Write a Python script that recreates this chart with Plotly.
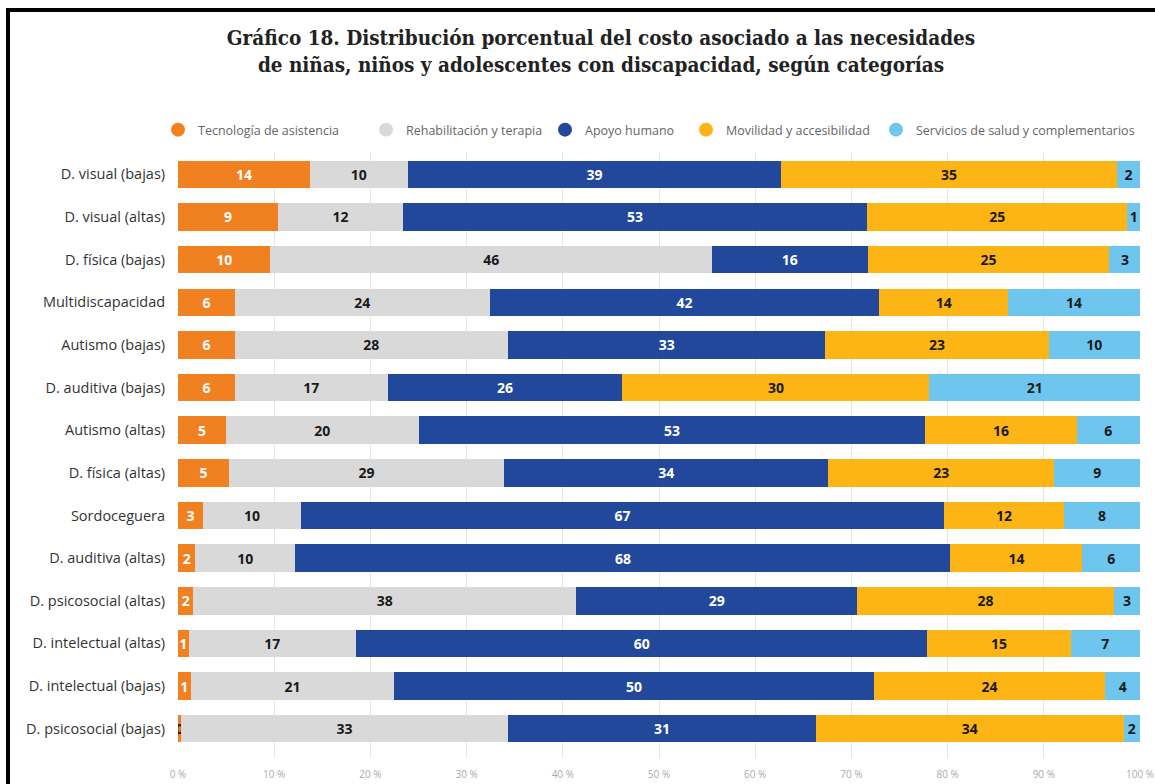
import plotly.graph_objects as go

# ---------------- data ----------------
categories = ["D. visual (bajas)", "D. visual (altas)", "D. física (bajas)", "Multidiscapacidad",
              "Autismo (bajas)", "D. auditiva (bajas)", "Autismo (altas)", "D. física (altas)",
              "Sordoceguera", "D. auditiva (altas)", "D. psicosocial (altas)", "D. intelectual (altas)",
              "D. intelectual (bajas)", "D. psicosocial (bajas)"]

series_names = ["Tecnología de asistencia", "Rehabilitación y terapia", "Apoyo humano",
                "Movilidad y accesibilidad", "Servicios de salud y complementarios"]

# bar widths (%)
tecnologia = [13.7, 10.4, 9.6, 5.9, 5.9, 5.9, 5.0, 5.3, 2.6, 1.8, 1.6, 1.1, 1.3, 0.3]
rehabilitacion = [10.2, 13.0, 45.9, 26.5, 28.4, 15.9, 20.0, 28.6, 10.2, 10.4, 39.8, 17.4, 21.2, 34.0]
apoyo = [38.8, 48.2, 16.2, 40.5, 33.0, 24.4, 52.7, 33.7, 66.8, 68.1, 29.2, 59.4, 49.8, 32.0]
movilidad = [34.9, 27.1, 25.1, 13.4, 23.2, 31.9, 15.7, 23.5, 12.5, 13.7, 26.7, 14.9, 24.1, 32.0]
servicios = [2.4, 1.3, 3.3, 13.7, 9.5, 21.9, 6.6, 8.9, 7.9, 6.0, 2.7, 7.2, 3.6, 1.7]

# value labels printed on the bars
tecnologia_lbl = [14, 9, 10, 6, 6, 6, 5, 5, 3, 2, 2, 1, 1, 0]
rehabilitacion_lbl = [10, 12, 46, 24, 28, 17, 20, 29, 10, 10, 38, 17, 21, 33]
apoyo_lbl = [39, 53, 16, 42, 33, 26, 53, 34, 67, 68, 29, 60, 50, 31]
movilidad_lbl = [35, 25, 25, 14, 23, 30, 16, 23, 12, 14, 28, 15, 24, 34]
servicios_lbl = [2, 1, 3, 14, 10, 21, 6, 9, 8, 6, 3, 7, 4, 2]

x_ticks = [0, 10, 20, 30, 40, 50, 60, 70, 80, 90, 100]
x_tick_labels = ["0 %", "10 %", "20 %", "30 %", "40 %", "50 %", "60 %", "70 %", "80 %", "90 %", "100 %"]

# ---------------- styling ----------------
colors = ["#F08020", "#D9D9D9", "#21489B", "#FDB515", "#6EC6EE"]
text_colors = ["#FFFFFF", "#1A1A1A", "#FFFFFF", "#1A1A1A", "#1A1A1A"]
legend_widths = [163, 134, 96, 145, 225]

W, H = 1155, 784
L, R, T, B = 178, 1140, 153, 758

def px_x(px):
    return (px - L) / (R - L)

def px_y(py):
    return (B - py) / (B - T)

values = [tecnologia, rehabilitacion, apoyo, movilidad, servicios]
labels = [tecnologia_lbl, rehabilitacion_lbl, apoyo_lbl, movilidad_lbl, servicios_lbl]

fig = go.Figure()
for name, vals, lbls, col, tcol in zip(series_names, values, labels, colors, text_colors):
    tcols = [tcol if v >= 1 else "#1A1A1A" for v in lbls]
    fig.add_trace(go.Bar(
        y=categories, x=vals, orientation="h", name=name,
        marker=dict(color=col, line=dict(width=0)),
        text=[str(v) for v in lbls], textposition="inside", insidetextanchor="middle",
        textangle=0,
        textfont=dict(family="Open Sans", size=14, color=tcols, weight="bold"),
        showlegend=False, hoverinfo="skip", legendgroup=name,
    ))

for name, col, lw in zip(series_names, colors, legend_widths):
    fig.add_trace(go.Scatter(
        x=[None], y=[None], mode="markers", name=name, legendgroup=name,
        marker=dict(size=14, color=col, symbol="circle"), legendwidth=lw,
    ))

fig.update_layout(
    width=W, height=H,
    margin=dict(l=L, r=W - R, t=T, b=H - B, pad=0, autoexpand=False),
    barmode="stack", bargap=0.355,
    paper_bgcolor="white", plot_bgcolor="white",
    uniformtext=dict(mode="show", minsize=14),
    title=dict(
        text="Gráfico 18. Distribución porcentual del costo asociado a las necesidades<br>"
             "de niñas, niños y adolescentes con discapacidad, según categorías",
        x=601 / W, xanchor="center", xref="container",
        y=1 - 45 / H, yanchor="top", yref="container",
        font=dict(family="DejaVu Serif Condensed, DejaVu Serif", size=20.5, color="#222222", weight="bold"),
    ),
    legend=dict(
        orientation="h", x=px_x(158), xanchor="left", y=px_y(130), yanchor="middle",
        font=dict(family="Open Sans", size=12.5, color="#666666"),
        itemwidth=30, bgcolor="rgba(0,0,0,0)", traceorder="normal",
    ),
    xaxis=dict(
        range=[0, 100], tickmode="array", tickvals=x_ticks, ticktext=x_tick_labels,
        showgrid=True, gridcolor="#E6E6E6", gridwidth=1, zeroline=False,
        showline=False, ticks="outside", ticklen=7, tickcolor="rgba(0,0,0,0)",
        tickfont=dict(family="Open Sans", size=10, color="#AAAAAA"),
        ticklabeloverflow="allow", automargin=False,
        fixedrange=True,
    ),
    yaxis=dict(
        categoryorder="array", categoryarray=categories,
        range=[len(categories) - 1 + 0.687, -0.5],
        showgrid=False, zeroline=False, showline=False,
        ticks="outside", ticklen=9, tickcolor="rgba(0,0,0,0)",
        tickfont=dict(family="Open Sans", size=14.5, color="#333333"),
        automargin=False, fixedrange=True,
    ),
    shapes=[
        dict(type="line", xref="paper", yref="paper",
             x0=px_x(8), x1=px_x(8), y0=px_y(8), y1=px_y(800),
             line=dict(color="black", width=4)),
        dict(type="line", xref="paper", yref="paper",
             x0=px_x(6), x1=px_x(1170), y0=px_y(10), y1=px_y(10),
             line=dict(color="black", width=4)),
    ],
)

fig.write_html("out.html", config={"displayModeBar": False},
               post_script="document.body.style.margin='0';document.body.style.overflow='hidden';")
